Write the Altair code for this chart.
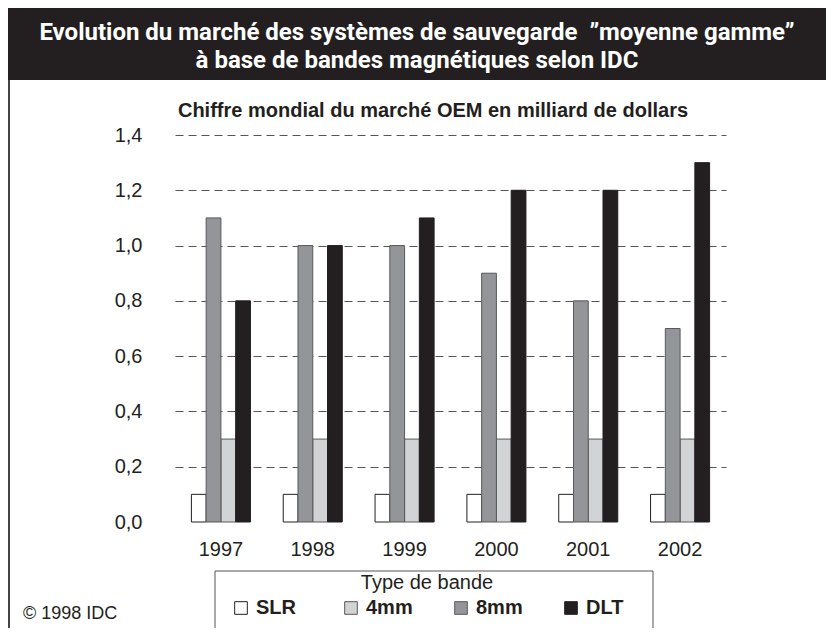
import altair as alt
import pandas as pd

years = ["1997", "1998", "1999", "2000", "2001", "2002"]
types_legend = ["SLR", "4mm", "8mm", "DLT"]
types_bar_order = ["SLR", "8mm", "4mm", "DLT"]
slr = [0.1, 0.1, 0.1, 0.1, 0.1, 0.1]
mm4 = [0.3, 0.3, 0.3, 0.3, 0.3, 0.3]
mm8 = [1.1, 1.0, 1.0, 0.9, 0.8, 0.7]
dlt = [0.8, 1.0, 1.1, 1.2, 1.2, 1.3]
fill_colors = ["#ffffff", "#d1d3d4", "#939598", "#231f20"]
stroke_colors = ["#231f20", "#58595b", "#58595b", "#231f20"]

title1 = "Evolution du marché des systèmes de sauvegarde\u00a0 ”moyenne gamme”"
title2 = "à base de bandes magnétiques selon IDC"
subtitle = "Chiffre mondial du marché OEM en milliard de dollars"
credit = "© 1998 IDC"
legend_title = "Type de bande"

rows = []
series = {"SLR": slr, "4mm": mm4, "8mm": mm8, "DLT": dlt}
for i, y in enumerate(years):
    for t in types_legend:
        rows.append({"year": y, "type": t, "value": series[t][i]})
df = pd.DataFrame(rows)

FONT = "Liberation Sans, Arial, Helvetica, sans-serif"
TFONT = "Roboto, Liberation Sans, sans-serif"

one = pd.DataFrame({"k": [0]})

bars = alt.Chart(df).mark_bar(strokeWidth=1).encode(
    x=alt.X("year:N", sort=years,
            scale=alt.Scale(range=[10, 561], paddingInner=0.357, paddingOuter=0.1785),
            axis=alt.Axis(title=None, labelAngle=0, labelFontSize=20, labelFont=FONT,
                          labelColor="#231f20", domain=False, ticks=False, tickSize=0,
                          labelPadding=17, grid=False)),
    xOffset=alt.XOffset("type:N", sort=types_bar_order,
                        scale=alt.Scale(domain=types_bar_order, paddingInner=0, paddingOuter=0)),
    y=alt.Y("value:Q", scale=alt.Scale(domain=[0, 1.4], nice=False),
            axis=alt.Axis(title=None, values=[0, 0.2, 0.4, 0.6, 0.8, 1.0, 1.2, 1.4],
                          labelExpr="replace(format(datum.value, '.1f'), '.', ',')",
                          labelFontSize=20, labelFont=FONT, labelColor="#231f20",
                          domain=False, ticks=False, tickSize=0, labelPadding=23,
                          grid=True, gridDash=[8, 5], gridColor="#555555", gridWidth=1,
                          gridOpacity={"condition": {"test": "datum.value === 0", "value": 0}, "value": 1})),
    color=alt.Color("type:N", sort=types_legend,
                    scale=alt.Scale(domain=types_legend, range=fill_colors),
                    legend=alt.Legend(title=legend_title, orient="none", direction="horizontal",
                                      legendX=64, legendY=436, titleFontSize=20,
                                      titleFontWeight="normal", titleFont=FONT, titleColor="#231f20",
                                      titleAnchor="middle", titleOrient="top",
                                      labelFontSize=20, labelFontWeight="bold", labelFont=FONT,
                                      labelColor="#231f20", symbolType="square", symbolSize=160,
                                      symbolStrokeColor="#58595b", symbolStrokeWidth=1,
                                      symbolOpacity=1, labelOffset=5, columnPadding=38,
                                      gridAlign="all", padding=2, titlePadding=5)),
    stroke=alt.Stroke("type:N", scale=alt.Scale(domain=types_legend, range=stroke_colors), legend=None),
)

title_bar = alt.Chart(one).mark_rect(color="#231f20").encode(
    x=alt.value(-157), x2=alt.value(661), y=alt.value(-127), y2=alt.value(-55))
left_border = alt.Chart(one).mark_rule(color="#444444", strokeWidth=2).encode(
    x=alt.value(-156), y=alt.value(-55), y2=alt.value(493))
t1 = alt.Chart(one).mark_text(font=TFONT, fontSize=24, fontWeight="bold", color="white",
                              align="center", baseline="middle").encode(
    x=alt.value(252), y=alt.value(-102), text=alt.value(title1))
t2 = alt.Chart(one).mark_text(font=TFONT, fontSize=24, fontWeight="bold", color="white",
                              align="center", baseline="middle").encode(
    x=alt.value(252), y=alt.value(-74), text=alt.value(title2))
sub = alt.Chart(one).mark_text(font=FONT, fontSize=20, fontWeight="bold", color="#231f20",
                               align="center", baseline="middle").encode(
    x=alt.value(268), y=alt.value(-24), text=alt.value(subtitle))
cred = alt.Chart(one).mark_text(font=FONT, fontSize=18, color="#231f20",
                                align="left", baseline="middle").encode(
    x=alt.value(-142), y=alt.value(479), text=alt.value(credit))
legend_box = alt.Chart(one).mark_rect(fill="white", stroke="#555555", strokeWidth=1).encode(
    x=alt.value(50), x2=alt.value(488), y=alt.value(436), y2=alt.value(520))

chart = alt.layer(title_bar, left_border, t1, t2, sub, cred, legend_box, bars).properties(
    width=555, height=387,
    padding={"left": 157, "top": 127, "right": 106, "bottom": 106},
    autosize=alt.AutoSizeParams(type="none"),
    background="white",
).configure_view(stroke=None)

chart.save("out.html", embed_options={"renderer": "svg", "actions": False})
